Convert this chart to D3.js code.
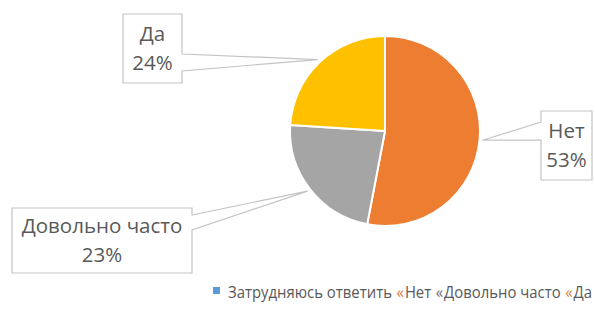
<!DOCTYPE html>
<html>
<head>
<meta charset="utf-8">
<script src="https://cdn.jsdelivr.net/npm/d3@7"></script>
<style>
  html, body { margin: 0; padding: 0; background: #fff; }
  svg { display: block; }
  text { font-family: "Open Sans", "DejaVu Sans", sans-serif; }
</style>
</head>
<body>
<svg id="chart" width="595" height="309"></svg>
<script>
// ---- data ----
const categories = ["Затрудняюсь ответить", "Нет", "Довольно часто", "Да"];
const values = [0, 53, 23, 24];
const sliceColors = ["#5B9BD5", "#ED7D31", "#A5A5A5", "#FFC000"];
const legendMarkers = ["■", "«", "«", "«"];
const legendMarkerColors = ["#5B9BD5", "#E07A32", "#6B6B6B", "#D08238"];

// ---- layout ----
const cx = 385, cy = 131, r = 95;
const textColor = "#595959";
const boxStroke = "#C4C4C4";
const boxes = {
  "Нет":            { x: 541, y: 111, w: 51,  h: 69, side: "left",  g1: 11, g2: 29 },
  "Довольно часто": { x: 12,  y: 208, w: 180, h: 65, side: "right", g1: 7,  g2: 22 },
  "Да":             { x: 123, y: 14,  w: 59,  h: 69, side: "right", g1: 40, g2: 57 }
};
const labelFont = 20.5, lineGap = 29, capH = 14.5;

const svg = d3.select("#chart");
const data = categories.map((c, i) => ({ cat: c, value: values[i], color: sliceColors[i] }));

const pie = d3.pie().sort(null).value(d => d.value).startAngle(0).endAngle(2 * Math.PI);
const arcs = pie(data);
const arc = d3.arc().innerRadius(0).outerRadius(r);

const g = svg.append("g").attr("transform", `translate(${cx},${cy})`);
g.selectAll("path.slice")
  .data(arcs.filter(a => a.data.value > 0))
  .join("path")
  .attr("class", "slice")
  .attr("d", arc)
  .attr("fill", d => d.data.color)
  .attr("stroke", "#fff")
  .attr("stroke-width", 2)
  .attr("stroke-linejoin", "round");

// callouts
arcs.filter(a => a.data.value > 0).forEach(a => {
  const b = boxes[a.data.cat];
  if (!b) return;
  const mid = (a.startAngle + a.endAngle) / 2;
  const R = r + 3;
  const tx = cx + R * Math.sin(mid), ty = cy - R * Math.cos(mid);
  let p;
  if (b.side === "right") {
    p = `M${b.x},${b.y}H${b.x + b.w}V${b.y + b.g1}L${tx},${ty}L${b.x + b.w},${b.y + b.g2}V${b.y + b.h}H${b.x}Z`;
  } else {
    p = `M${b.x},${b.y}H${b.x + b.w}V${b.y + b.h}H${b.x}V${b.y + b.g2}L${tx},${ty}L${b.x},${b.y + b.g1}Z`;
  }
  svg.append("path").attr("d", p)
    .attr("fill", "#fff").attr("stroke", boxStroke).attr("stroke-width", 1.2)
    .attr("stroke-linejoin", "miter");
  const mx = b.x + b.w / 2, my = b.y + b.h / 2;
  const blockH = capH + lineGap;
  const base1 = my - blockH / 2 + capH;
  const t = svg.append("text").attr("fill", textColor).attr("font-size", labelFont).attr("text-anchor", "middle");
  t.append("tspan").attr("x", mx).attr("y", base1).text(a.data.cat);
  t.append("tspan").attr("x", mx).attr("y", base1 + lineGap).text(a.data.value + "%");
});

// legend: pieces laid out left to right at natural width, then the group is
// scaled horizontally to the reference's width
const legendY = 298, legendFont = 16.5;
const legendSquareX = 213, legendTextX = 228, legendTextW = 364;
svg.append("rect").attr("x", legendSquareX).attr("y", legendY - 11)
  .attr("width", 7).attr("height", 7).attr("fill", legendMarkerColors[0]);
const pieces = [];
categories.forEach((c, i) => {
  if (i > 0) pieces.push({ text: legendMarkers[i], color: legendMarkerColors[i], gapAfter: 1 });
  pieces.push({ text: c, color: textColor, gapAfter: i < categories.length - 1 ? 5 : 0 });
});
const outer = svg.append("g");
const lg = outer.append("g");
let px = 0;
pieces.forEach(p => {
  const t = lg.append("text").attr("x", px).attr("y", 0).attr("font-size", legendFont).attr("fill", p.color).text(p.text);
  px += t.node().getComputedTextLength() + p.gapAfter;
});
const k = legendTextW / px;
outer.attr("transform", `translate(${legendTextX},${legendY}) scale(${k},1)`);
</script>
</body>
</html>
